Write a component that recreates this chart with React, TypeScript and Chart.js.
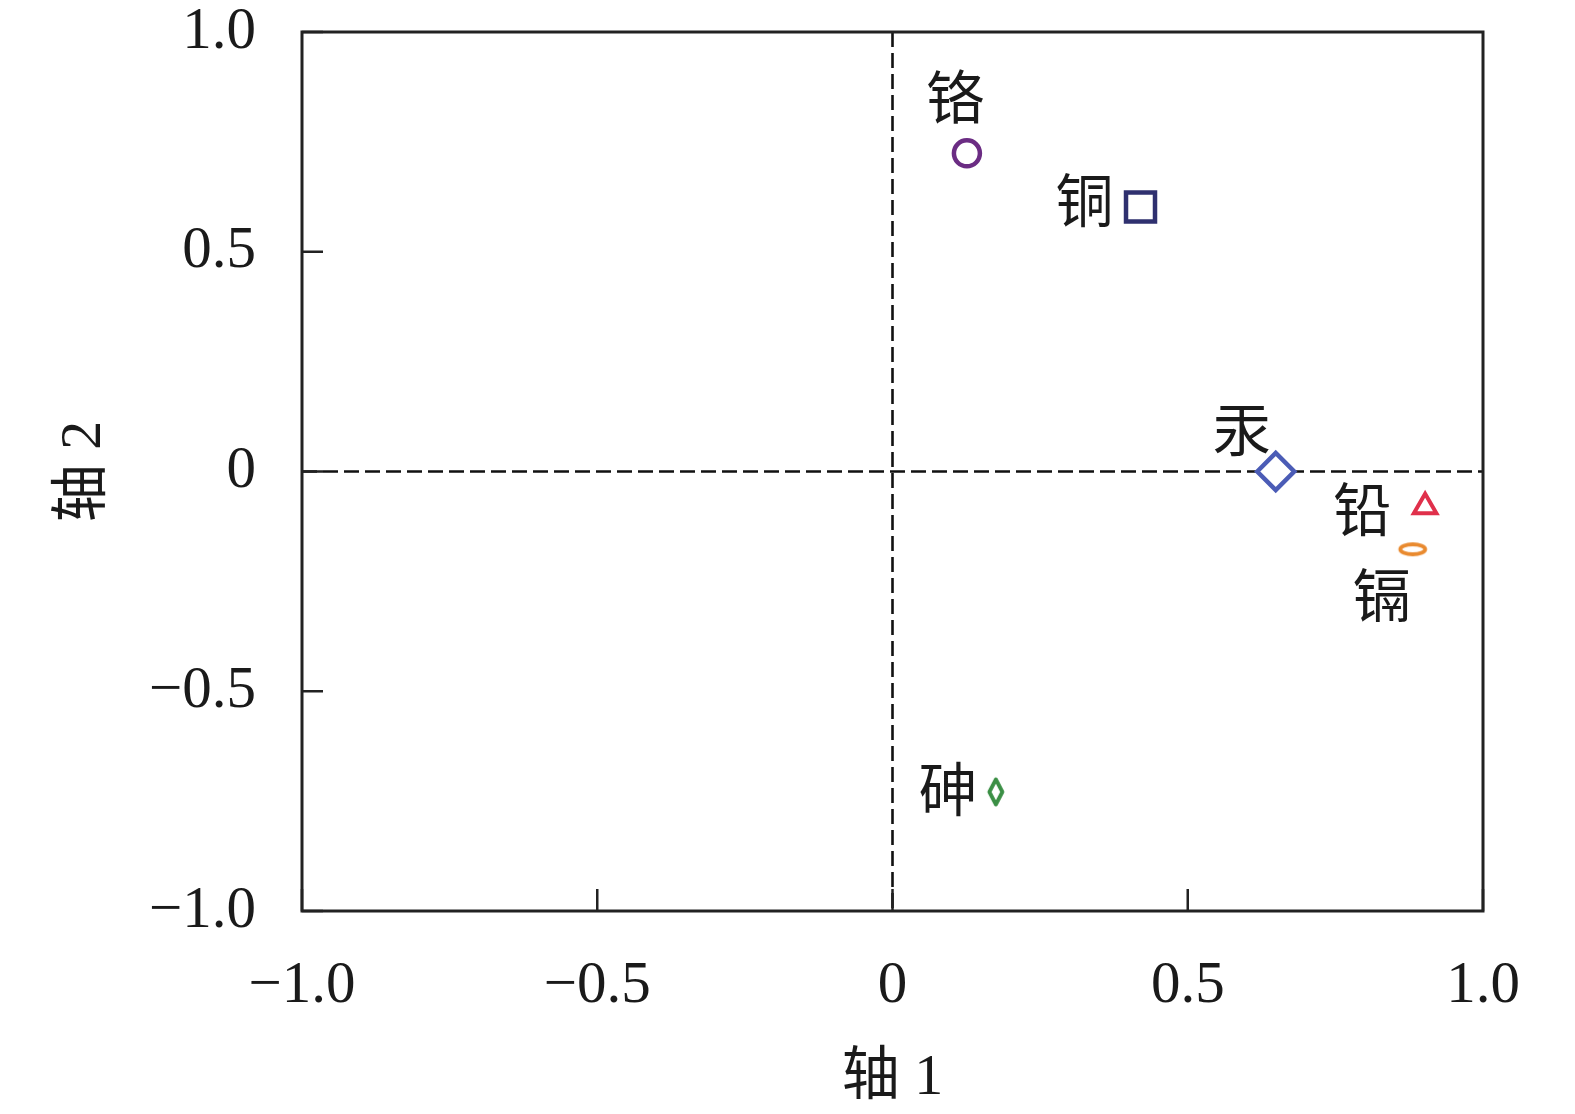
import React, { useEffect, useRef } from "react";
import { Chart, registerables } from "chart.js";

Chart.register(...registerables);

// ---- data ----
const elements = ["铬", "铜", "汞", "铅", "镉", "砷"];
const axis1Values = [0.126, 0.42, 0.649, 0.902, 0.881, 0.175];
const axis2Values = [0.724, 0.602, 0.0, -0.08, -0.177, -0.729];
const tickValues = [-1, -0.5, 0, 0.5, 1];
const tickLabels = ["−1.0", "−0.5", "0", "0.5", "1.0"];
const xTitle = "轴 1";
const yTitle = "轴 2";

// ---- styles ----
const colors = ["#6b2c83", "#2f306f", "#4b5cb6", "#e0304b", "#e98a2f", "#3b8f45"];
const labelOffsets = [
  [-12, -50],
  [-56, 0],
  [-34, -36],
  [-63, 9],
  [-31, 52],
  [-48, 4],
];
const TEXT = "#1a1a1a";
const NUM_FONT = '"Liberation Serif", "Times New Roman", serif';
const CJK_FONT = '"Liberation Serif", "Noto Sans CJK SC", serif';

function makeEllipse(color: string) {
  const c = document.createElement("canvas");
  c.width = 34;
  c.height = 20;
  const ctx = c.getContext("2d")!;
  ctx.fillStyle = "#fff";
  ctx.strokeStyle = color;
  ctx.lineWidth = 3.8;
  ctx.beginPath();
  ctx.ellipse(17, 10, 12.5, 5, 0, 0, Math.PI * 2);
  ctx.fill();
  ctx.stroke();
  return c;
}

function makeNarrowDiamond(color: string) {
  const c = document.createElement("canvas");
  c.width = 24;
  c.height = 36;
  const ctx = c.getContext("2d")!;
  ctx.fillStyle = "#fff";
  ctx.strokeStyle = color;
  ctx.lineWidth = 3.8;
  ctx.lineJoin = "round";
  ctx.beginPath();
  ctx.moveTo(12, 18 - 12.5);
  ctx.lineTo(12 + 6.5, 18);
  ctx.lineTo(12, 18 + 12.5);
  ctx.lineTo(12 - 6.5, 18);
  ctx.closePath();
  ctx.fill();
  ctx.stroke();
  return c;
}

const framePlugin = {
  id: "frame",
  beforeDatasetsDraw(chart: any) {
    const { ctx, chartArea, scales } = chart;
    const { left, right, top, bottom } = chartArea;
    const x0 = scales.x.getPixelForValue(0);
    const y0 = scales.y.getPixelForValue(0);
    ctx.save();
    // dashed zero lines
    ctx.strokeStyle = "#111";
    ctx.lineWidth = 2.6;
    ctx.setLineDash([15, 6]);
    ctx.beginPath();
    ctx.moveTo(left, y0);
    ctx.lineTo(right, y0);
    ctx.moveTo(x0, top);
    ctx.lineTo(x0, bottom);
    ctx.stroke();
    ctx.setLineDash([]);
    // inward ticks
    ctx.strokeStyle = "#222";
    ctx.lineWidth = 2.5;
    ctx.beginPath();
    for (const v of tickValues) {
      const px = scales.x.getPixelForValue(v);
      ctx.moveTo(px, bottom);
      ctx.lineTo(px, bottom - 22);
      const py = scales.y.getPixelForValue(v);
      ctx.moveTo(left, py);
      ctx.lineTo(left + 21, py);
    }
    ctx.stroke();
    // border box
    ctx.lineWidth = 3;
    ctx.strokeRect(left, top, right - left, bottom - top);
    ctx.restore();
  },
};

const labelPlugin = {
  id: "pointLabels",
  afterDatasetsDraw(chart: any) {
    const { ctx } = chart;
    ctx.save();
    ctx.font = `58px ${CJK_FONT}`;
    ctx.fillStyle = TEXT;
    ctx.textAlign = "center";
    ctx.textBaseline = "middle";
    chart.data.datasets.forEach((ds: any, i: number) => {
      const pt = chart.getDatasetMeta(i).data[0];
      if (!pt) return;
      const [dx, dy] = labelOffsets[i];
      ctx.fillText(ds.label, pt.x + dx, pt.y + dy);
    });
    ctx.restore();
  },
};

export default function App() {
  const canvasRef = useRef<HTMLCanvasElement | null>(null);

  useEffect(() => {
    document.body.style.margin = "0";
    const canvas = canvasRef.current;
    if (!canvas) return;

    const pointStyles: any[] = [
      "circle",
      "rect",
      "rectRot",
      "triangle",
      makeEllipse(colors[4]),
      makeNarrowDiamond(colors[5]),
    ];
    const radii = [13, 20.5, 18.5, 13, 10, 10];
    const widths = [4.5, 4.5, 4.5, 4, 3.8, 3.8];

    const datasets = elements.map((name, i) => ({
      label: name,
      data: [{ x: axis1Values[i], y: axis2Values[i] }],
      pointStyle: pointStyles[i],
      pointRadius: radii[i],
      pointBorderWidth: widths[i],
      pointBorderColor: colors[i],
      pointBackgroundColor: "#ffffff",
      showLine: false,
    }));

    const tickFont = { family: NUM_FONT, size: 59 };
    const titleFont = { family: CJK_FONT, size: 58 };

    const chart = new Chart(canvas, {
      type: "scatter",
      data: { datasets },
      options: {
        animation: false,
        responsive: false,
        maintainAspectRatio: false,
        layout: { padding: { top: 32, right: 92, left: 0, bottom: 0 } },
        plugins: {
          legend: { display: false },
          tooltip: { enabled: false },
        },
        scales: {
          x: {
            type: "linear",
            position: "bottom",
            min: -1,
            max: 1,
            grid: { display: false, drawTicks: false },
            border: { display: false },
            afterBuildTicks: (s: any) => {
              s.ticks = tickValues.map((v) => ({ value: v }));
            },
            afterFit: (s: any) => {
              s.height = 203;
              s.paddingLeft = 0;
              s.paddingRight = 0;
            },
            ticks: {
              autoSkip: false,
              maxRotation: 0,
              padding: 40,
              color: TEXT,
              font: tickFont,
              callback: (v: any) => {
                const i = tickValues.indexOf(Number(v));
                return i >= 0 ? tickLabels[i] : "";
              },
            },
            title: {
              display: true,
              text: xTitle,
              color: TEXT,
              font: titleFont,
              padding: { top: 0, bottom: 0 },
            },
          },
          y: {
            type: "linear",
            position: "left",
            min: -1,
            max: 1,
            grid: { display: false, drawTicks: false },
            border: { display: false },
            afterBuildTicks: (s: any) => {
              s.ticks = tickValues.map((v) => ({ value: v }));
            },
            afterFit: (s: any) => {
              s.width = 302;
              s.paddingTop = 0;
              s.paddingBottom = 0;
            },
            ticks: {
              autoSkip: false,
              padding: 46,
              color: TEXT,
              font: tickFont,
              callback: (v: any) => {
                const i = tickValues.indexOf(Number(v));
                return i >= 0 ? tickLabels[i] : "";
              },
            },
            title: {
              display: true,
              text: yTitle,
              color: TEXT,
              font: titleFont,
              padding: { top: 50, bottom: 0 },
            },
          },
        },
      },
      plugins: [framePlugin, labelPlugin],
    } as any);

    return () => chart.destroy();
  }, []);

  return (
    <div style={{ width: 1575, height: 1114, background: "#fff" }}>
      <canvas
        ref={canvasRef}
        width={1575}
        height={1114}
        style={{ display: "block", width: 1575, height: 1114 }}
      />
    </div>
  );
}
